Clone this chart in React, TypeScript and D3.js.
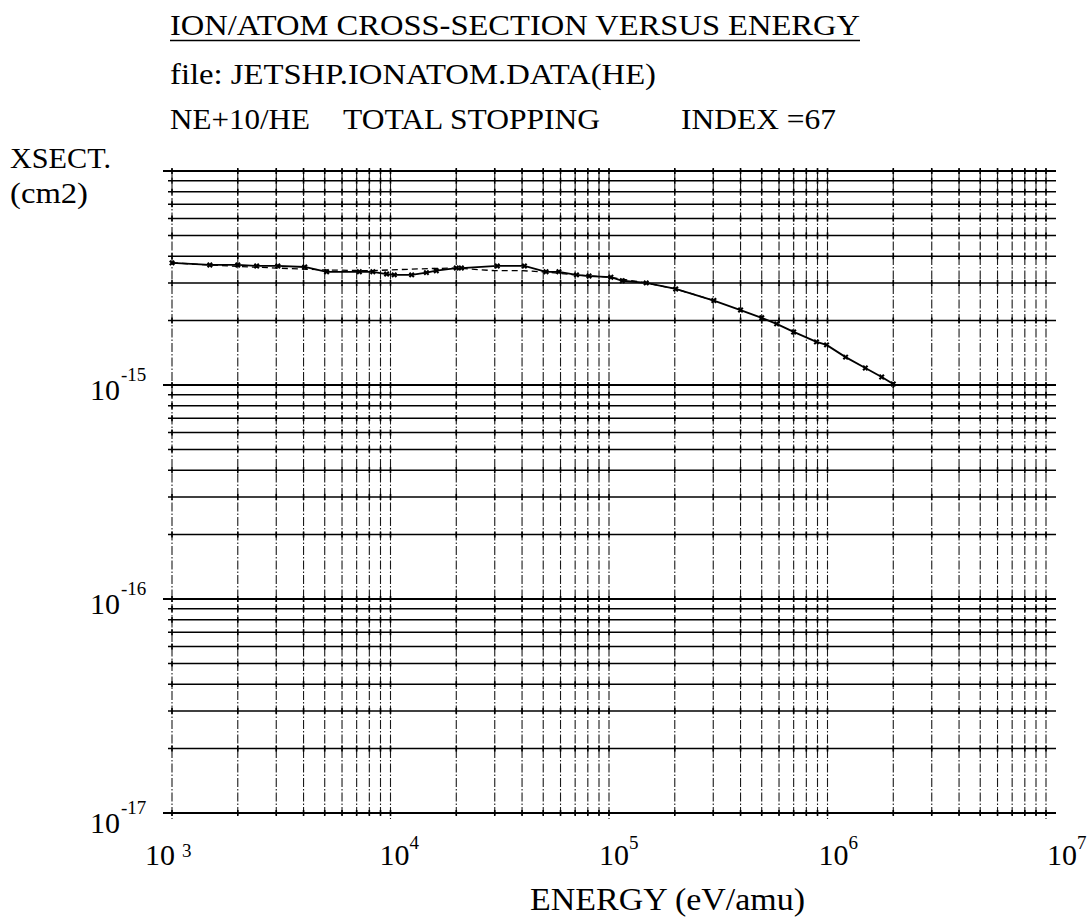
import React from "react";
import * as d3 from "d3";

// ---- data (energy in eV/amu, cross-section in cm2) ----
const energyTotal = [
  1e3, 1.49e3, 2.0e3, 2.44e3, 3.05e3, 4.05e3, 5.1e3, 7.2e3, 8.3e3, 9.6e3,
  1.04e4, 1.25e4, 1.46e4, 1.62e4, 2.0e4, 2.11e4, 3.08e4, 4.1e4, 5.15e4, 5.9e4,
  7.1e4, 8.1e4, 1.02e5, 1.15e5, 1.48e5, 2.02e5, 3.02e5, 4.0e5, 5.0e5, 5.85e5,
  7.0e5, 8.9e5, 9.9e5, 1.21e6, 1.49e6, 1.77e6, 2.0e6,
];
const xsectTotal = [
  3.72e-15, 3.64e-15, 3.64e-15, 3.6e-15, 3.6e-15, 3.56e-15, 3.38e-15, 3.38e-15, 3.38e-15, 3.3e-15,
  3.27e-15, 3.27e-15, 3.35e-15, 3.42e-15, 3.52e-15, 3.52e-15, 3.6e-15, 3.6e-15, 3.38e-15, 3.38e-15,
  3.27e-15, 3.23e-15, 3.19e-15, 3.07e-15, 3.0e-15, 2.81e-15, 2.48e-15, 2.24e-15, 2.06e-15, 1.93e-15,
  1.77e-15, 1.59e-15, 1.54e-15, 1.35e-15, 1.2e-15, 1.09e-15, 1.01e-15,
];
const energyFit = [1e3, 2e3, 3e3, 5e3, 8e3, 1e4, 1.5e4, 2e4, 3e4, 4e4, 5e4, 7e4, 1e5, 1.48e5, 2.02e5, 3.02e5];
const xsectFit = [
  3.72e-15, 3.58e-15, 3.52e-15, 3.45e-15, 3.42e-15, 3.45e-15, 3.5e-15, 3.52e-15, 3.42e-15, 3.42e-15,
  3.38e-15, 3.27e-15, 3.19e-15, 3.0e-15, 2.81e-15, 2.48e-15,
];

const xDecades = [3, 4, 5, 6];
const xLastDecade = 7;
const yDecades = [-17, -16, -15];
const yLastDecade = -14;
const xTickExps = ["3", "4", "5", "6", "7"];
const yTickExps = ["-17", "-16", "-15"];

const titleText = "ION/ATOM CROSS-SECTION  VERSUS  ENERGY";
const fileText = "file:  JETSHP.IONATOM.DATA(HE)";
const seriesText = "NE+10/HE";
const stoppingText = "TOTAL STOPPING";
const indexText = "INDEX =67";
const yLabel1 = "XSECT.";
const yLabel2 = "(cm2)";
const xLabel = "ENERGY  (eV/amu)";

const FONT = "'Liberation Serif', 'Times New Roman', serif";

export default function App() {
  const W = 1087;
  const H = 918;
  const x = d3.scaleLog().domain([1e3, 1e7]).range([172, 1046]);
  const y = d3.scaleLog().domain([1e-17, 1e-14]).range([813, 171]);

  const xGrid: { v: number; major: boolean }[] = [];
  xDecades.forEach((d) => {
    for (let m = 1; m <= 9; m++) xGrid.push({ v: m * Math.pow(10, d), major: m === 1 });
  });
  xGrid.push({ v: Math.pow(10, xLastDecade), major: true });

  const yGrid: { v: number; major: boolean }[] = [];
  yDecades.forEach((d) => {
    for (let m = 1; m <= 9; m++) yGrid.push({ v: m * Math.pow(10, d), major: m === 1 });
  });
  yGrid.push({ v: Math.pow(10, yLastDecade), major: true });

  const line = d3
    .line<[number, number]>()
    .x((d) => x(d[0]))
    .y((d) => y(d[1]))
    .curve(d3.curveLinear);

  const totalPts: [number, number][] = energyTotal.map((e, i) => [e, xsectTotal[i]]);
  const fitPts: [number, number][] = energyFit.map((e, i) => [e, xsectFit[i]]);

  const top = y(1e-14);
  const bottom = y(1e-17);
  const left = x(1e3);
  const rightEnd = 1056;

  const xLabelOffsets = [-27, -11, -10, -9, 1];

  return (
    <div style={{ position: "absolute", left: 0, top: 0, width: W, height: H, background: "#fff" }}>
      <svg width={W} height={H} style={{ display: "block" }} fontFamily={FONT}>
        <rect x={0} y={0} width={W} height={H} fill="#fff" />

        {/* titles */}
        <text x={170} y={35} fontSize={30} textLength={690} lengthAdjust="spacingAndGlyphs" fill="#000">
          {titleText}
        </text>
        <line x1={170} x2={860} y1={40.5} y2={40.5} stroke="#000" strokeWidth={1.6} />
        <text x={170} y={84} fontSize={29} textLength={486} lengthAdjust="spacingAndGlyphs" fill="#000">
          {fileText}
        </text>
        <text x={170} y={129} fontSize={29} textLength={140} lengthAdjust="spacingAndGlyphs" fill="#000">
          {seriesText}
        </text>
        <text x={343} y={129} fontSize={29} textLength={257} lengthAdjust="spacingAndGlyphs" fill="#000">
          {stoppingText}
        </text>
        <text x={681} y={129} fontSize={29} textLength={155} lengthAdjust="spacingAndGlyphs" fill="#000">
          {indexText}
        </text>
        <text x={10} y={168} fontSize={29} textLength={101} lengthAdjust="spacingAndGlyphs" fill="#000">
          {yLabel1}
        </text>
        <text x={10} y={203} fontSize={29} textLength={78} lengthAdjust="spacingAndGlyphs" fill="#000">
          {yLabel2}
        </text>

        {/* vertical grid */}
        {xGrid.map((g, i) => (
          <line
            key={"vx" + i}
            x1={x(g.v)}
            x2={x(g.v)}
            y1={top - 2}
            y2={bottom + (g.major ? 6 : 2)}
            stroke="#1a1a1a"
            strokeWidth={1.1}
            strokeDasharray="9,2,1.5,2"
          />
        ))}

        {/* horizontal grid */}
        {yGrid.map((g, i) => (
          <line
            key={"hy" + i}
            x1={g.major ? left - 9 : left - 4}
            x2={rightEnd}
            y1={y(g.v)}
            y2={y(g.v)}
            stroke="#000"
            strokeWidth={g.major ? 1.8 : 1.5}
          />
        ))}

        {/* intersection tick marks */}
        {yGrid.map((gy, i) =>
          xGrid.map((gx, j) => (
            <line
              key={"t" + i + "_" + j}
              x1={x(gx.v)}
              x2={x(gx.v)}
              y1={y(gy.v) - 3}
              y2={y(gy.v) + 3}
              stroke="#000"
              strokeWidth={1.6}
            />
          ))
        )}

        {/* data */}
        <path d={line(fitPts) || ""} fill="none" stroke="#000" strokeWidth={1.3} strokeDasharray="6,4" />
        <path d={line(totalPts) || ""} fill="none" stroke="#000" strokeWidth={1.8} />
        {totalPts.map((p, i) => (
          <path
            key={"m" + i}
            transform={`translate(${x(p[0])},${y(p[1])}) rotate(45)`}
            d={d3.symbol().type(d3.symbolCross).size(22)() || ""}
            fill="#000"
          />
        ))}

        {/* y tick labels */}
        {yDecades.map((d, i) => {
          const gy = y(Math.pow(10, d));
          const base = d === -17 ? gy + 20 : gy + 15;
          return (
            <g key={"yl" + i}>
              <text x={90} y={base} fontSize={30} fill="#000">
                10
              </text>
              <text x={121} y={base - 19} fontSize={19} fill="#000">
                {yTickExps[i]}
              </text>
            </g>
          );
        })}

        {/* x tick labels */}
        {xTickExps.map((e, i) => {
          const tx = x(Math.pow(10, 3 + i));
          const sx = tx + xLabelOffsets[i];
          return (
            <g key={"xl" + i}>
              <text x={sx} y={865} fontSize={30} fill="#000">
                10
              </text>
              <text x={sx + (i === 0 ? 37 : 30)} y={i === 0 ? 857 : 849} fontSize={19} fill="#000">
                {e}
              </text>
            </g>
          );
        })}

        {/* x axis label */}
        <text x={530} y={910} fontSize={31} textLength={275} lengthAdjust="spacingAndGlyphs" fill="#000">
          {xLabel}
        </text>
      </svg>
    </div>
  );
}
